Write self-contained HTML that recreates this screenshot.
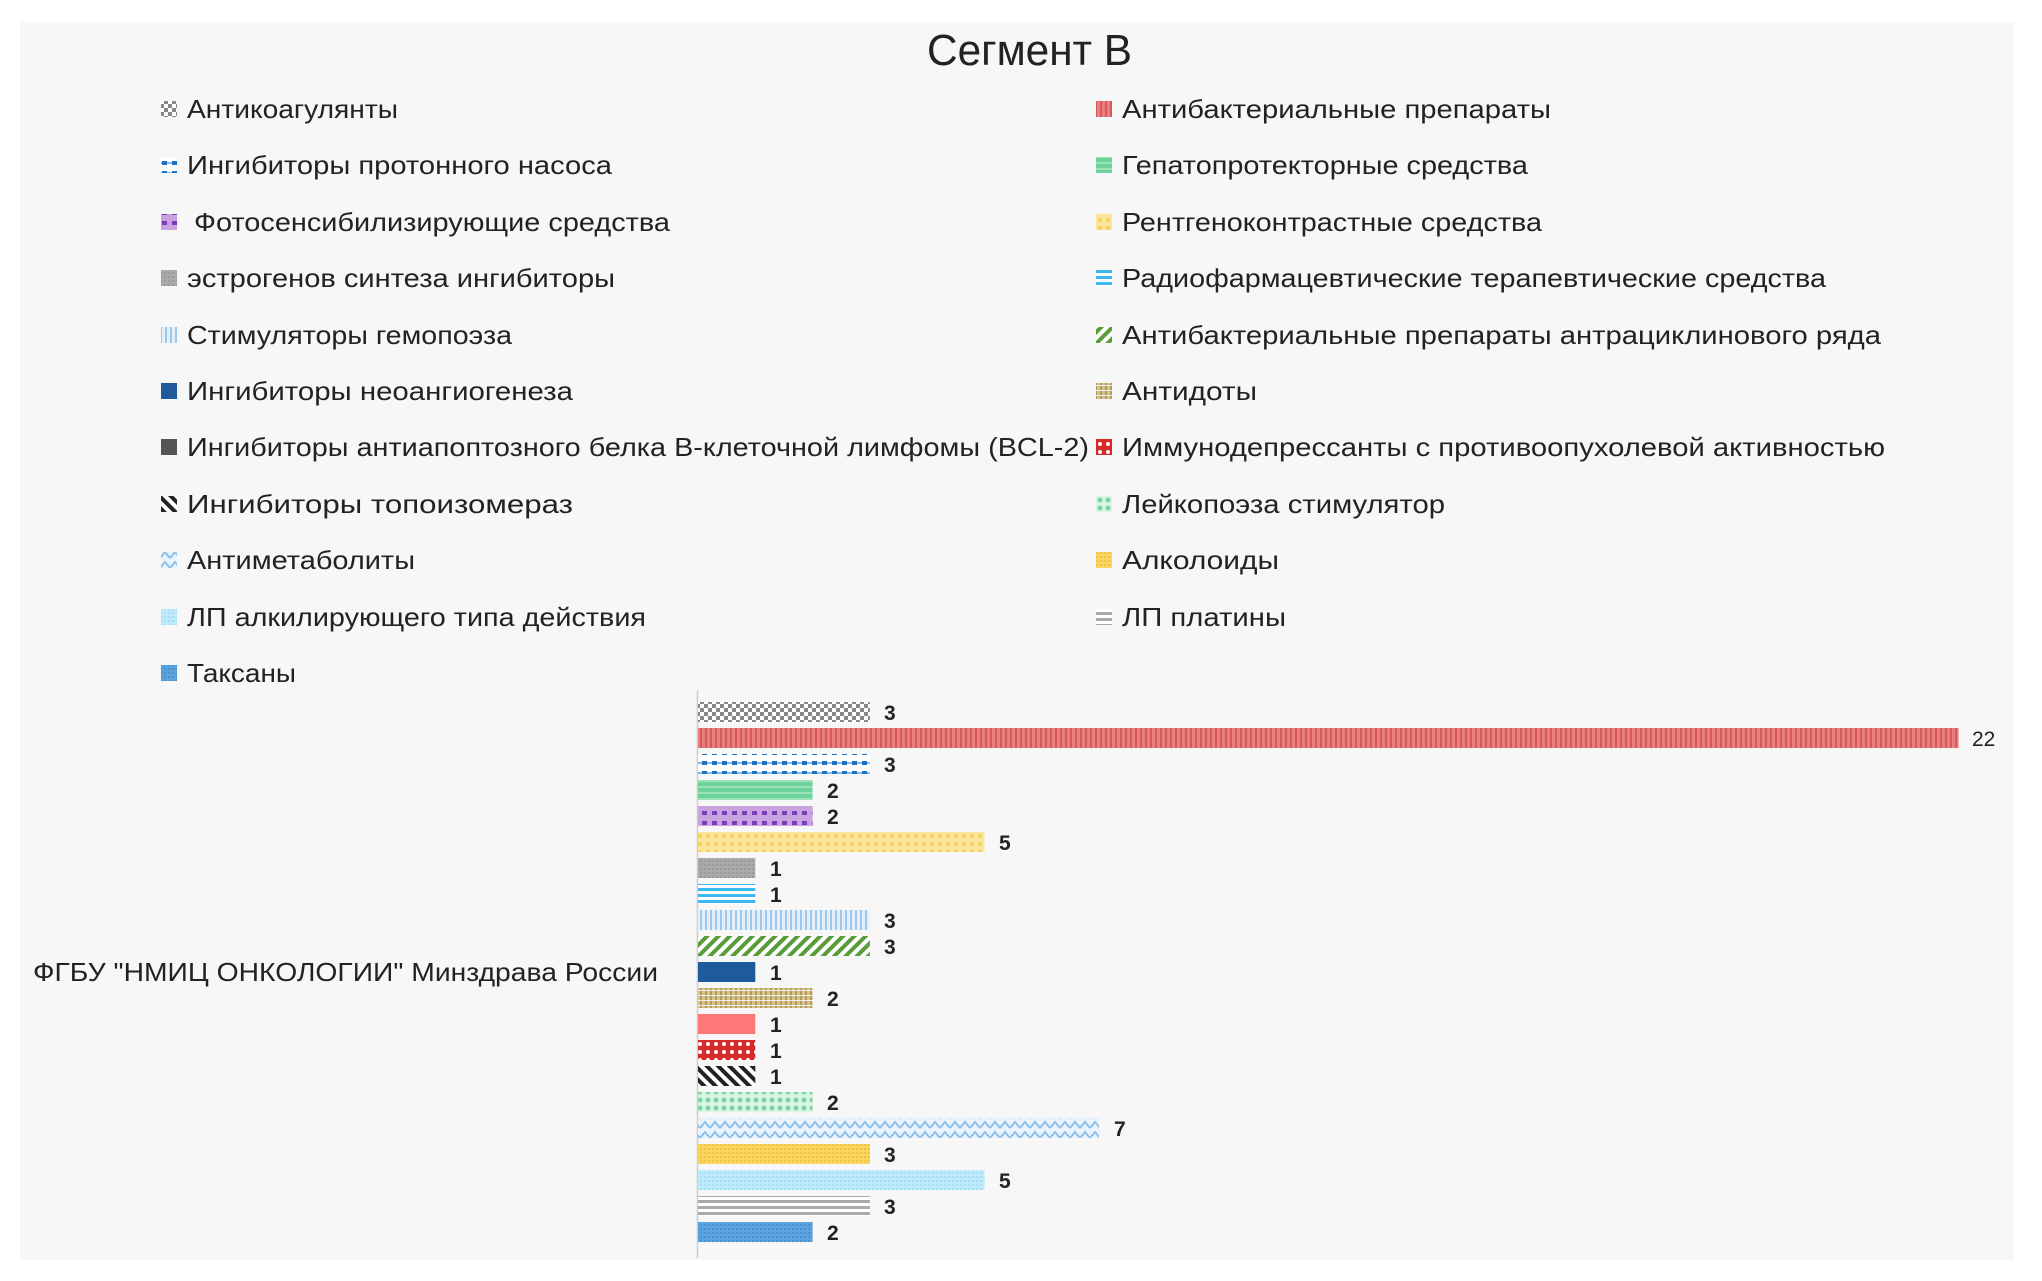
<!DOCTYPE html>
<html><head><meta charset="utf-8"><style>
html,body{margin:0;padding:0;background:#fff;}
svg{display:block;}
text{font-family:"Liberation Sans",sans-serif;fill:#222;}
</style></head><body>
<svg width="2042" height="1281" viewBox="0 0 2042 1281" xmlns="http://www.w3.org/2000/svg">
<defs>
<pattern id="p0" width="8" height="8" patternUnits="userSpaceOnUse"><rect width="8" height="8" fill="#fff"/><rect width="4" height="4" fill="#888"/><rect x="4" y="4" width="4" height="4" fill="#888"/></pattern>
<pattern id="p1" width="5" height="5" patternUnits="userSpaceOnUse"><rect width="5" height="5" fill="#e98080"/><rect width="2" height="5" fill="#d65a5a"/></pattern>
<pattern id="p2" width="10" height="10" patternUnits="userSpaceOnUse"><rect width="10" height="10" fill="#fff"/><rect x="2" y="1" width="5" height="4" fill="#1a72c7"/><rect x="0" y="2" width="10" height="2" fill="#1a72c7" opacity=".5"/></pattern>
<pattern id="p3" width="6" height="6" patternUnits="userSpaceOnUse"><rect width="6" height="6" fill="#6ed39a"/><rect y="0" width="6" height="2" fill="#9be2b8"/></pattern>
<pattern id="p4" width="10" height="10" patternUnits="userSpaceOnUse"><rect width="10" height="10" fill="#c9a3e0"/><rect x="2" y="1" width="5" height="4" fill="#7b3db5"/></pattern>
<pattern id="p5" width="8" height="8" patternUnits="userSpaceOnUse"><rect width="8" height="8" fill="#fbe59a"/><circle cx="4" cy="4" r="2" fill="#f6cf58"/></pattern>
<pattern id="p6" width="4" height="4" patternUnits="userSpaceOnUse"><rect width="4" height="4" fill="#aaa"/><rect width="2" height="2" fill="#999"/></pattern>
<pattern id="p7" width="6" height="6" patternUnits="userSpaceOnUse"><rect width="6" height="6" fill="#fff"/><rect width="6" height="3" fill="#3cb8f0"/></pattern>
<pattern id="p8" width="5" height="5" patternUnits="userSpaceOnUse"><rect width="5" height="5" fill="#e6f0fb"/><rect width="2" height="5" fill="#9cc8ec"/></pattern>
<pattern id="p9" width="8" height="8" patternUnits="userSpaceOnUse" patternTransform="rotate(45)"><rect width="8" height="8" fill="#fff"/><rect width="4" height="8" fill="#5a9c3a"/></pattern>
<pattern id="p10" width="4" height="4" patternUnits="userSpaceOnUse"><rect width="4" height="4" fill="#1f5b9a"/></pattern>
<pattern id="p11" width="5" height="5" patternUnits="userSpaceOnUse"><rect width="5" height="5" fill="#d6c48c"/><rect width="2" height="5" fill="#b39a58"/><rect width="5" height="1" fill="#eee"/></pattern>
<pattern id="p12" width="4" height="4" patternUnits="userSpaceOnUse"><rect width="4" height="4" fill="#f77"/></pattern>
<pattern id="p13" width="8" height="8" patternUnits="userSpaceOnUse"><rect width="8" height="8" fill="#d42a2a"/><circle cx="4" cy="4" r="2" fill="#fff"/></pattern>
<pattern id="p14" width="8" height="8" patternUnits="userSpaceOnUse" patternTransform="rotate(-45)"><rect width="8" height="8" fill="#fff"/><rect width="4" height="8" fill="#222"/></pattern>
<pattern id="p15" width="8" height="8" patternUnits="userSpaceOnUse"><rect width="8" height="8" fill="#d6f5e2"/><circle cx="4" cy="4" r="2.5" fill="#7ed3a0"/></pattern>
<pattern id="p16" width="10" height="10" patternUnits="userSpaceOnUse"><rect width="10" height="10" fill="#eaf3fc"/><path d="M0 8 L5 2 L10 8" stroke="#8cc0ea" stroke-width="2" fill="none"/></pattern>
<pattern id="p17" width="4" height="4" patternUnits="userSpaceOnUse"><rect width="4" height="4" fill="#f8d560"/><rect width="2" height="2" fill="#f2c238"/></pattern>
<pattern id="p18" width="4" height="4" patternUnits="userSpaceOnUse"><rect width="4" height="4" fill="#bfeaf9"/><rect width="2" height="2" fill="#a4ddf4"/></pattern>
<pattern id="p19" width="6" height="6" patternUnits="userSpaceOnUse"><rect width="6" height="6" fill="#fff"/><rect width="6" height="3" fill="#aaa"/></pattern>
<pattern id="p20" width="4" height="4" patternUnits="userSpaceOnUse"><rect width="4" height="4" fill="#5ba3dc"/><rect width="2" height="2" fill="#4a90cc"/></pattern>
</defs>
<rect x="20" y="22" width="1994" height="1238" fill="#f7f7f7"/>
<text x="927" y="65" font-size="44" textLength="205" lengthAdjust="spacingAndGlyphs">Сегмент В</text>

<g font-size="26">
<rect x="161" y="101" width="16" height="16" fill="url(#p0)"/><text x="187" y="118" textLength="211" lengthAdjust="spacingAndGlyphs">Антикоагулянты</text>
<rect x="161" y="157" width="16" height="16" fill="url(#p2)"/><text x="187" y="174" textLength="425" lengthAdjust="spacingAndGlyphs">Ингибиторы протонного насоса</text>
<rect x="161" y="214" width="16" height="16" fill="url(#p4)"/><text x="194" y="231" textLength="476" lengthAdjust="spacingAndGlyphs">Фотосенсибилизирующие средства</text>
<rect x="161" y="270" width="16" height="16" fill="url(#p6)"/><text x="187" y="287" textLength="428" lengthAdjust="spacingAndGlyphs">эстрогенов синтеза ингибиторы</text>
<rect x="161" y="327" width="16" height="16" fill="url(#p8)"/><text x="187" y="344" textLength="325" lengthAdjust="spacingAndGlyphs">Стимуляторы гемопоэза</text>
<rect x="161" y="383" width="16" height="16" fill="url(#p10)"/><text x="187" y="400" textLength="386" lengthAdjust="spacingAndGlyphs">Ингибиторы неоангиогенеза</text>
<rect x="161" y="439" width="16" height="16" fill="#555"/><text x="187" y="456" textLength="902" lengthAdjust="spacingAndGlyphs">Ингибиторы антиапоптозного белка В-клеточной лимфомы (BCL-2)</text>
<rect x="161" y="496" width="16" height="16" fill="url(#p14)"/><text x="187" y="513" textLength="386" lengthAdjust="spacingAndGlyphs">Ингибиторы  топоизомераз</text>
<rect x="161" y="552" width="16" height="16" fill="url(#p16)"/><text x="187" y="569" textLength="228" lengthAdjust="spacingAndGlyphs">Антиметаболиты</text>
<rect x="161" y="609" width="16" height="16" fill="url(#p18)"/><text x="187" y="626" textLength="459" lengthAdjust="spacingAndGlyphs">ЛП алкилирующего типа действия</text>
<rect x="161" y="665" width="16" height="16" fill="url(#p20)"/><text x="187" y="682" textLength="109" lengthAdjust="spacingAndGlyphs">Таксаны</text>

<rect x="1096" y="101" width="16" height="16" fill="url(#p1)"/><text x="1122" y="118" textLength="429" lengthAdjust="spacingAndGlyphs">Антибактериальные препараты</text>
<rect x="1096" y="157" width="16" height="16" fill="url(#p3)"/><text x="1122" y="174" textLength="406" lengthAdjust="spacingAndGlyphs">Гепатопротекторные средства</text>
<rect x="1096" y="214" width="16" height="16" fill="url(#p5)"/><text x="1122" y="231" textLength="420" lengthAdjust="spacingAndGlyphs">Рентгеноконтрастные средства</text>
<rect x="1096" y="270" width="16" height="16" fill="url(#p7)"/><text x="1122" y="287" textLength="704" lengthAdjust="spacingAndGlyphs">Радиофармацевтические терапевтические средства</text>
<rect x="1096" y="327" width="16" height="16" fill="url(#p9)"/><text x="1122" y="344" textLength="759" lengthAdjust="spacingAndGlyphs">Антибактериальные препараты антрациклинового ряда</text>
<rect x="1096" y="383" width="16" height="16" fill="url(#p11)"/><text x="1122" y="400" textLength="135" lengthAdjust="spacingAndGlyphs">Антидоты</text>
<rect x="1096" y="439" width="16" height="16" fill="url(#p13)"/><text x="1122" y="456" textLength="763" lengthAdjust="spacingAndGlyphs">Иммунодепрессанты с противоопухолевой активностью</text>
<rect x="1096" y="496" width="16" height="16" fill="url(#p15)"/><text x="1122" y="513" textLength="323" lengthAdjust="spacingAndGlyphs">Лейкопоэза стимулятор</text>
<rect x="1096" y="552" width="16" height="16" fill="url(#p17)"/><text x="1122" y="569" textLength="157" lengthAdjust="spacingAndGlyphs">Алколоиды</text>
<rect x="1096" y="609" width="16" height="16" fill="url(#p19)"/><text x="1122" y="626" textLength="164" lengthAdjust="spacingAndGlyphs">ЛП платины</text>
</g>

<text x="33" y="981" font-size="26" textLength="625" lengthAdjust="spacingAndGlyphs">ФГБУ "НМИЦ ОНКОЛОГИИ" Минздрава России</text>
<line x1="697.5" y1="690" x2="697.5" y2="1258" stroke="#ccc" stroke-width="1.5"/>

<g font-size="21" font-weight="bold">
<rect x="698" y="702" width="171.9" height="20" fill="url(#p0)"/><text x="884" y="720">3</text>
<rect x="698" y="728" width="1260.6" height="20" fill="url(#p1)"/><text x="1972" y="746" font-weight="normal">22</text>
<rect x="698" y="754" width="171.9" height="20" fill="url(#p2)"/><text x="884" y="772">3</text>
<rect x="698" y="780" width="114.6" height="20" fill="url(#p3)"/><text x="827" y="798">2</text>
<rect x="698" y="806" width="114.6" height="20" fill="url(#p4)"/><text x="827" y="824">2</text>
<rect x="698" y="832" width="286.5" height="20" fill="url(#p5)"/><text x="999" y="850">5</text>
<rect x="698" y="858" width="57.3" height="20" fill="url(#p6)"/><text x="770" y="876">1</text>
<rect x="698" y="884" width="57.3" height="20" fill="url(#p7)"/><text x="770" y="902">1</text>
<rect x="698" y="910" width="171.9" height="20" fill="url(#p8)"/><text x="884" y="928">3</text>
<rect x="698" y="936" width="171.9" height="20" fill="url(#p9)"/><text x="884" y="954">3</text>
<rect x="698" y="962" width="57.3" height="20" fill="url(#p10)"/><text x="770" y="980">1</text>
<rect x="698" y="988" width="114.6" height="20" fill="url(#p11)"/><text x="827" y="1006">2</text>
<rect x="698" y="1014" width="57.3" height="20" fill="url(#p12)"/><text x="770" y="1032">1</text>
<rect x="698" y="1040" width="57.3" height="20" fill="url(#p13)"/><text x="770" y="1058">1</text>
<rect x="698" y="1066" width="57.3" height="20" fill="url(#p14)"/><text x="770" y="1084">1</text>
<rect x="698" y="1092" width="114.6" height="20" fill="url(#p15)"/><text x="827" y="1110">2</text>
<rect x="698" y="1118" width="401.1" height="20" fill="url(#p16)"/><text x="1114" y="1136">7</text>
<rect x="698" y="1144" width="171.9" height="20" fill="url(#p17)"/><text x="884" y="1162">3</text>
<rect x="698" y="1170" width="286.5" height="20" fill="url(#p18)"/><text x="999" y="1188">5</text>
<rect x="698" y="1196" width="171.9" height="20" fill="url(#p19)"/><text x="884" y="1214">3</text>
<rect x="698" y="1222" width="114.6" height="20" fill="url(#p20)"/><text x="827" y="1240">2</text>
</g>
</svg>
</body></html>
